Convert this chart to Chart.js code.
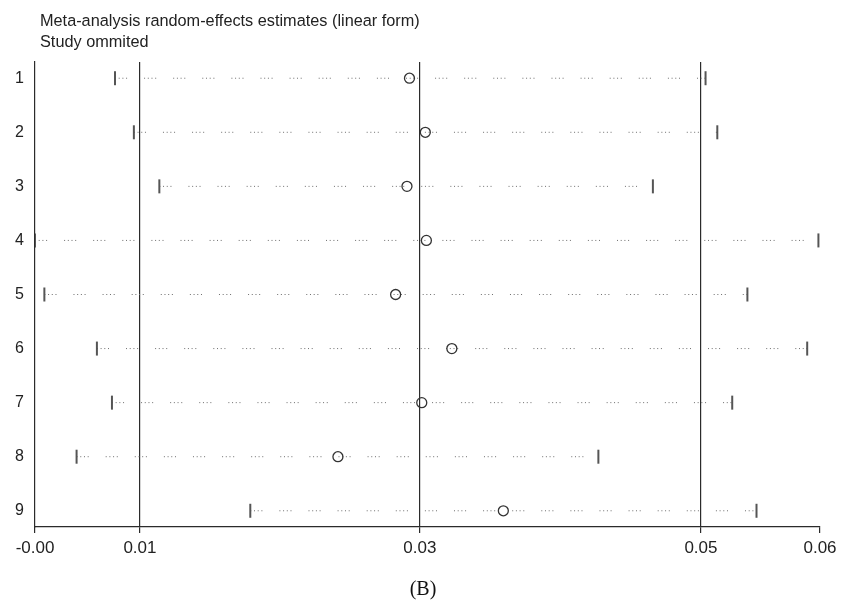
<!DOCTYPE html>
<html>
<head>
<meta charset="utf-8">
<script src="https://cdn.jsdelivr.net/npm/chart.js@4"></script>
<style>
  html, body { margin: 0; padding: 0; background: #fff; }
  #wrap { width: 858px; height: 602px; }
</style>
</head>
<body>
<div id="wrap"><canvas id="chart" width="858" height="602"></canvas></div>
<script>
// Study omitted (rows, top to bottom)
const studies = [1, 2, 3, 4, 5, 6, 7, 8, 9];
// Estimate with that study omitted, and its confidence interval
const estimates = [0.02742, 0.02862, 0.02723, 0.02870, 0.02637, 0.03063, 0.02835, 0.02200, 0.03453];
const lowerCI   = [0.00511, 0.00654, 0.00847, -0.00095, -0.00024, 0.00374, 0.00488, 0.00220, 0.01536];
const upperCI   = [0.04985, 0.05074, 0.04586, 0.05840, 0.05302, 0.05755, 0.05187, 0.04173, 0.05371];

// x axis: Stata labels the axis at min, lower CI, estimate, upper CI, max (format %4.2f)
const tickValues = [-0.00095, 0.00700, 0.02821, 0.04950, 0.05852];
const tickLabels = ['-0.00', '0.01', '0.03', '0.05', '0.06'];

const FONT = "'Liberation Sans', Arial, sans-serif";
const AXIS_COLOR = '#2b2b2b';
const DOT_COLOR = '#6e6e6e';

// one dotted segment per study, capped with short vertical bars
const ciSets = studies.map((s, i) => ({
  type: 'line',
  data: [{ x: lowerCI[i], y: s }, { x: upperCI[i], y: s }],
  borderColor: DOT_COLOR,
  borderWidth: 1,
  borderDash: [1, 2.7, 1, 2.7, 1, 2.7, 1, 17],
  pointStyle: 'line',
  rotation: 90,
  pointRadius: 7,
  pointBorderWidth: 2,
  pointBorderColor: '#555',
  pointBackgroundColor: '#555'
}));

const estSet = {
  type: 'scatter',
  data: studies.map((s, i) => ({ x: estimates[i], y: s })),
  pointStyle: 'circle',
  pointRadius: 5,
  pointBorderWidth: 1.3,
  pointBorderColor: '#333',
  pointBackgroundColor: 'rgba(0,0,0,0)'
};

// titles above the plot and the panel caption underneath
const textPlugin = {
  id: 'texts',
  afterDraw(chart) {
    const ctx = chart.ctx;
    ctx.save();
    ctx.fillStyle = '#222';
    ctx.textAlign = 'left';
    ctx.textBaseline = 'alphabetic';
    ctx.font = '16.3px ' + FONT;
    ctx.fillText('Meta-analysis random-effects estimates (linear form)', 40, 26);
    ctx.fillText('Study ommited', 40, 47);
    ctx.font = "20px 'Liberation Serif', 'Times New Roman', serif";
    ctx.fillStyle = '#111';
    ctx.textAlign = 'center';
    ctx.fillText('(B)', 423, 595);
    ctx.restore();
  }
};

new Chart(document.getElementById('chart'), {
  data: { datasets: [estSet, ...ciSets] },
  options: {
    responsive: false,
    animation: false,
    layout: { padding: { top: 62, right: 38, left: 0, bottom: 0 } },
    plugins: {
      legend: { display: false },
      tooltip: { enabled: false }
    },
    scales: {
      x: {
        type: 'linear',
        min: tickValues[0],
        max: tickValues[tickValues.length - 1],
        afterBuildTicks: (scale) => { scale.ticks = tickValues.map(v => ({ value: v })); },
        afterFit: (scale) => { scale.height = 75; },
        grid: {
          color: (c) => (c.index === 0 || c.index === tickValues.length - 1) ? 'rgba(0,0,0,0)' : AXIS_COLOR,
          tickColor: AXIS_COLOR,
          tickLength: 6,
          lineWidth: 1.2
        },
        border: { color: AXIS_COLOR, width: 1.2 },
        ticks: {
          color: '#222',
          font: { family: FONT, size: 17 },
          padding: 5,
          maxRotation: 0,
          autoSkip: false,
          callback: (v, i) => tickLabels[i]
        }
      },
      y: {
        type: 'linear',
        reverse: true,
        min: 0.7,
        max: 9.3,
        afterBuildTicks: (scale) => { scale.ticks = studies.map(v => ({ value: v })); },
        afterFit: (scale) => { scale.width = 35; },
        grid: { display: false },
        border: { color: AXIS_COLOR, width: 1.2 },
        ticks: {
          color: '#222',
          font: { family: FONT, size: 16 },
          padding: 3,
          autoSkip: false,
          callback: (v) => String(v)
        }
      }
    }
  },
  plugins: [textPlugin]
});
</script>
</body>
</html>
